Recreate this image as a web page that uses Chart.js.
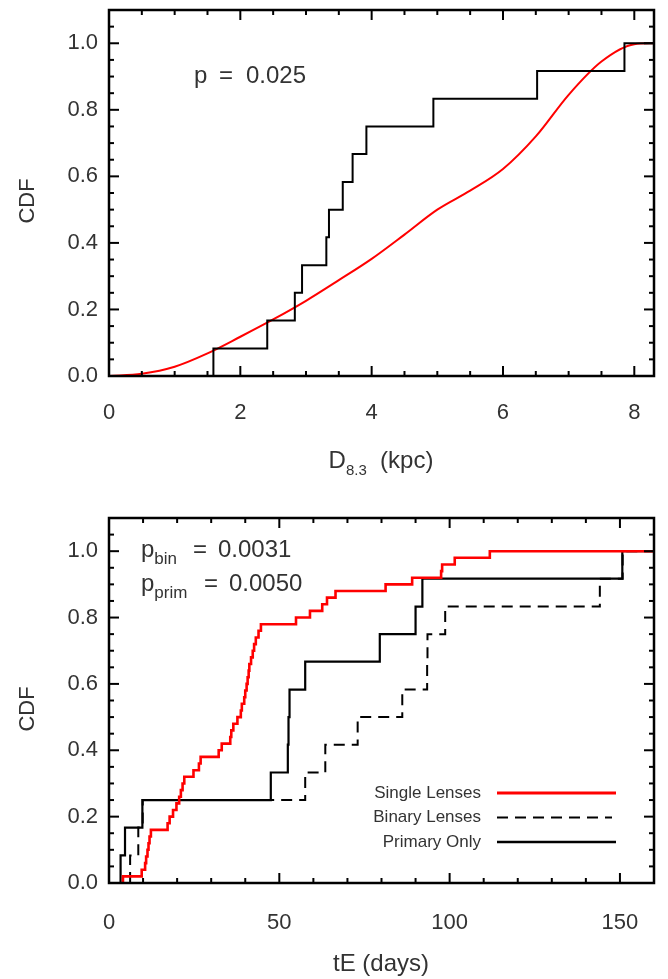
<!DOCTYPE html>
<html>
<head>
<meta charset="utf-8">
<script src="https://cdn.jsdelivr.net/npm/chart.js@4.4.0/dist/chart.umd.min.js"></script>
<style>
  html, body { margin: 0; padding: 0; background: #fff; }
  #wrap { position: relative; width: 668px; height: 979px; }
  canvas { position: absolute; left: 0; }
  #top { top: 0; }
  #bottom { top: 490px; }
</style>
</head>
<body>
<div id="wrap">
  <canvas id="top" width="668" height="490"></canvas>
  <canvas id="bottom" width="668" height="489"></canvas>
</div>
<script>
const FONT = '"Liberation Sans", Arial, sans-serif';
const INK = '#333';

// top panel: distance CDF (observed steps + model curve)
const DIST_STEPS = [1.59, 2.41, 2.83, 2.94, 3.31, 3.35, 3.56, 3.71, 3.92, 4.94, 6.52, 7.85];
const DIST_CDF = [0.083, 0.167, 0.25, 0.333, 0.417, 0.5, 0.583, 0.667, 0.75, 0.833, 0.917, 1.0];
const MODEL_X = [0, 0.5, 1.0, 1.5, 2.0, 2.5, 3.0, 3.5, 4.0, 4.5, 5.0, 5.5, 6.0, 6.5, 7.0, 7.5, 8.0, 8.3];
const MODEL_CDF = [0, 0.007, 0.028, 0.068, 0.118, 0.17, 0.226, 0.288, 0.352, 0.425, 0.5, 0.557, 0.622, 0.72, 0.845, 0.945, 0.997, 1.0];

// bottom panel: tE CDFs
const TE_SINGLE = [4.1, 9.6, 10.6, 10.9, 11.3, 11.6, 11.9, 12.3, 17.2, 17.8, 18.8, 19.8, 20.6, 21.1, 21.6, 22.1, 24.8, 26.4, 26.9, 32.2,
  33.1, 35.6, 35.9, 36.5, 37.7, 38.7, 39.0, 39.7, 40.0, 40.4, 40.7, 41.0, 41.2, 41.7, 42.2, 42.6, 43.1, 43.9, 44.6, 54.9,
  59.0, 62.6, 64.0, 66.5, 81.2, 89.0, 97.5, 97.8, 101.5, 111.8];
const CDF_SINGLE = [0.02, 0.04, 0.06, 0.08, 0.10, 0.12, 0.14, 0.16, 0.18, 0.20, 0.22, 0.24, 0.26, 0.28, 0.30, 0.32, 0.34, 0.36, 0.38, 0.40,
  0.42, 0.44, 0.46, 0.48, 0.50, 0.52, 0.54, 0.56, 0.58, 0.60, 0.62, 0.64, 0.66, 0.68, 0.70, 0.72, 0.74, 0.76, 0.78, 0.80,
  0.82, 0.84, 0.86, 0.88, 0.90, 0.92, 0.94, 0.96, 0.98, 1.0];
const TE_BINARY = [6.2, 8.6, 9.9, 57.6, 63.5, 73.0, 86.1, 93.4, 93.5, 98.7, 144.1, 150.8];
const CDF_BINARY = [0.083, 0.167, 0.25, 0.333, 0.417, 0.5, 0.583, 0.667, 0.75, 0.833, 0.917, 1.0];
const TE_PRIMARY = [3.4, 4.7, 9.8, 47.5, 52.5, 52.7, 53.0, 57.6, 79.5, 90.0, 92.0, 150.7];
const CDF_PRIMARY = [0.083, 0.167, 0.25, 0.333, 0.417, 0.5, 0.583, 0.667, 0.75, 0.833, 0.917, 1.0];

const D_TICKS = [0, 2, 4, 6, 8];
const TE_TICKS = [0, 50, 100, 150];
const CDF_TICKS = [0, 0.2, 0.4, 0.6, 0.8, 1.0];

const LEGEND = [
  { label: 'Single Lenses', color: '#ff0000', width: 3, dash: [] },
  { label: 'Binary Lenses', color: '#000', width: 2.2, dash: [11, 7] },
  { label: 'Primary Only', color: '#000', width: 2.5, dash: [] }
];

function stepPoints(xs, ys, xEnd) {
  const pts = [{ x: xs[0], y: 0 }];
  xs.forEach((x, i) => pts.push({ x, y: ys[i] }));
  pts.push({ x: xEnd, y: ys[ys.length - 1] });
  return pts;
}

function stepSet(data, color, width, dash) {
  return {
    data, showLine: true, stepped: 'before', borderColor: color, borderWidth: width,
    borderDash: dash || [], pointRadius: 0, fill: false
  };
}

// inward ticks on all four sides plus the box
function framePlugin(xMajor, xMinor) {
  return {
    id: 'frame',
    afterDraw(chart) {
      const { ctx, chartArea: a, scales: { x, y } } = chart;
      const tick = (x1, y1, x2, y2) => { ctx.beginPath(); ctx.moveTo(x1, y1); ctx.lineTo(x2, y2); ctx.stroke(); };
      ctx.save();
      ctx.strokeStyle = '#000';
      ctx.lineWidth = 2;
      const nx = Math.floor(x.max / xMinor + 1e-6);
      const every = Math.round(xMajor / xMinor);
      for (let i = 0; i <= nx; i++) {
        const px = x.getPixelForValue(i * xMinor);
        const len = i % every === 0 ? 10 : 5;
        tick(px, a.bottom, px, a.bottom - len);
        tick(px, a.top, px, a.top + len);
      }
      for (let i = 0; i <= 22; i++) {
        const py = y.getPixelForValue(i * 0.05);
        const len = i % 4 === 0 ? 10 : 5;
        tick(a.left, py, a.left + len, py);
        tick(a.right, py, a.right - len, py);
      }
      ctx.lineWidth = 2.5;
      ctx.strokeRect(a.left, a.top, a.right - a.left, a.bottom - a.top);
      ctx.restore();
    }
  };
}

// draws [text, size, dy, x?] pieces one after another
function drawPieces(ctx, pieces, x, y) {
  pieces.forEach(([t, size, dy, at]) => {
    ctx.font = `${size}px ${FONT}`;
    const px = at != null ? at : x;
    ctx.fillText(t, px, y + dy);
    x = px + ctx.measureText(t).width;
  });
}

function piecesWidth(ctx, pieces) {
  return pieces.reduce((w, [t, size]) => {
    ctx.font = `${size}px ${FONT}`;
    return w + ctx.measureText(t).width;
  }, 0);
}

function drawCDFTitle(ctx, cy) {
  ctx.save();
  ctx.translate(28, cy);
  ctx.rotate(-Math.PI / 2);
  ctx.font = `22px ${FONT}`;
  ctx.textAlign = 'center';
  ctx.textBaseline = 'middle';
  ctx.fillText('CDF', 0, 0);
  ctx.restore();
}

function baseOptions(xMax, xTicks, padTop, xAxisHeight, xPad) {
  return {
    responsive: false,
    animation: false,
    layout: { padding: { top: padTop, right: 14, left: 0, bottom: 0 } },
    plugins: { legend: { display: false }, tooltip: { enabled: false } },
    scales: {
      x: {
        type: 'linear', min: 0, max: xMax,
        grid: { display: false, drawTicks: false },
        border: { display: false },
        afterBuildTicks: s => { s.ticks = xTicks.map(v => ({ value: v })); },
        afterFit: s => { s.height = xAxisHeight; s.paddingLeft = 0; s.paddingRight = 0; },
        ticks: { font: { family: FONT, size: 22 }, color: INK, padding: xPad, maxRotation: 0, autoSkip: false }
      },
      y: {
        type: 'linear', min: 0, max: 1.1,
        grid: { display: false, drawTicks: false },
        border: { display: false },
        afterBuildTicks: s => { s.ticks = CDF_TICKS.map(v => ({ value: v })); },
        afterFit: s => { s.width = 109; s.paddingTop = 0; s.paddingBottom = 0; },
        ticks: { font: { family: FONT, size: 22 }, color: INK, padding: 11, callback: v => v.toFixed(1) }
      }
    }
  };
}

new Chart(document.getElementById('top'), {
  type: 'scatter',
  data: {
    datasets: [
      stepSet(stepPoints(DIST_STEPS, DIST_CDF, 8.3), '#000', 2),
      {
        data: MODEL_X.map((x, i) => ({ x, y: MODEL_CDF[i] })),
        showLine: true, borderColor: '#ff0000', borderWidth: 2, pointRadius: 0,
        cubicInterpolationMode: 'monotone', fill: false
      }
    ]
  },
  options: baseOptions(8.3, D_TICKS, 10, 114, 24),
  plugins: [framePlugin(2, 0.5), {
    id: 'topText',
    afterDraw(chart) {
      const ctx = chart.ctx;
      ctx.save();
      ctx.fillStyle = INK;
      ctx.textBaseline = 'alphabetic';
      drawPieces(ctx, [['p', 24, 0, 194], ['=', 24, 0, 219], ['0.025', 24, 0, 246]], 194, 83);
      const title = [['D', 24, 0], ['8.3', 15, 7], ['  (kpc)', 24, 0]];
      drawPieces(ctx, title, 381 - piecesWidth(ctx, title) / 2, 468);
      drawCDFTitle(ctx, 201);
      ctx.restore();
    }
  }]
});

new Chart(document.getElementById('bottom'), {
  type: 'scatter',
  data: {
    datasets: [
      stepSet(stepPoints(TE_SINGLE, CDF_SINGLE, 160), '#ff0000', 2.6),
      stepSet(stepPoints(TE_PRIMARY, CDF_PRIMARY, 160), '#000', 2.2),
      stepSet(stepPoints(TE_BINARY, CDF_BINARY, 160), '#000', 2, [11, 7])
    ]
  },
  options: baseOptions(160, TE_TICKS, 28, 96, 27),
  plugins: [framePlugin(50, 10), {
    id: 'bottomText',
    afterDraw(chart) {
      const ctx = chart.ctx;
      ctx.save();
      ctx.fillStyle = INK;
      ctx.textBaseline = 'alphabetic';
      drawPieces(ctx, [['p', 24, 0, 141], ['bin', 17, 7], ['=', 24, 0, 193], ['0.0031', 24, 0, 218]], 141, 67);
      drawPieces(ctx, [['p', 24, 0, 141], ['prim', 17, 7], ['=', 24, 0, 204], ['0.0050', 24, 0, 229]], 141, 101);
      ctx.font = `24px ${FONT}`;
      ctx.textAlign = 'center';
      ctx.fillText('tE (days)', 381, 481);
      ctx.textAlign = 'left';
      drawCDFTitle(ctx, 219);
      // legend
      LEGEND.forEach((item, i) => {
        const ly = 303 + i * 24.5;
        ctx.font = `17px ${FONT}`;
        ctx.textAlign = 'right';
        ctx.textBaseline = 'middle';
        ctx.fillText(item.label, 481, ly);
        ctx.strokeStyle = item.color;
        ctx.lineWidth = item.width;
        ctx.setLineDash(item.dash);
        ctx.beginPath();
        ctx.moveTo(497, ly);
        ctx.lineTo(i === 1 ? 612 : 616, ly);
        ctx.stroke();
        ctx.setLineDash([]);
      });
      ctx.restore();
    }
  }]
});
</script>
</body>
</html>
